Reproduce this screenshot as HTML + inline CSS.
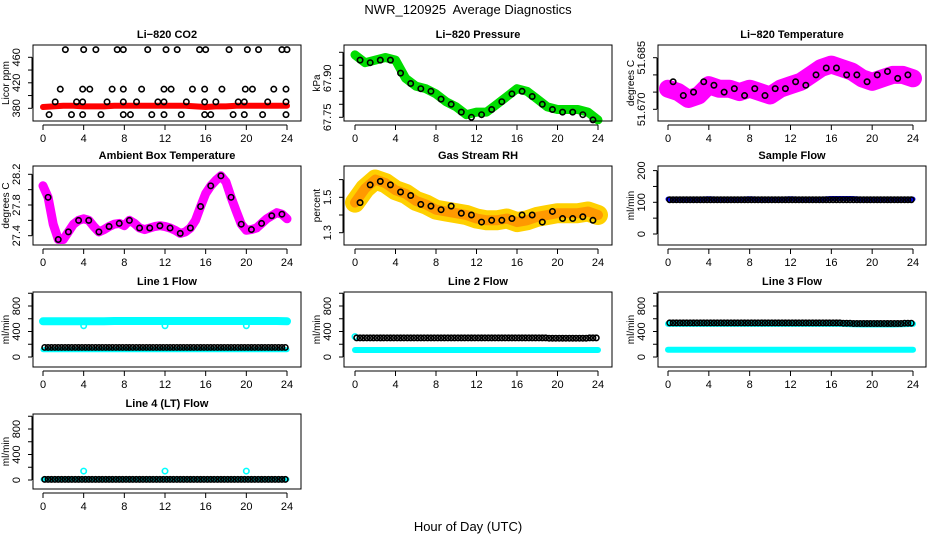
<!DOCTYPE html>
<html><head><meta charset="utf-8"><style>
html,body{margin:0;padding:0;background:#fff;}
svg{display:block;font-family:"Liberation Sans",sans-serif;}
</style></head><body>
<svg id="chart" width="936" height="540" viewBox="0 0 936 540" xmlns="http://www.w3.org/2000/svg">
<text x="468" y="14" text-anchor="middle" font-size="13">NWR_120925&#160; Average Diagnostics</text>
<text x="468" y="531" text-anchor="middle" font-size="13">Hour of Day (UTC)</text>
</svg>
<script>
const HOURLY=[0,1,2,3,4,5,6,7,8,9,10,11,12,13,14,15,16,17,18,19,20,21,22,23,24];
const HALF=[0.5,1.5,2.5,3.5,4.5,5.5,6.5,7.5,8.5,9.5,10.5,11.5,12.5,13.5,14.5,15.5,16.5,17.5,18.5,19.5,20.5,21.5,22.5,23.5];
const HH=[0,0.5,1,1.5,2,2.5,3,3.5,4,4.5,5,5.5,6,6.5,7,7.5,8,8.5,9,9.5,10,10.5,11,11.5,12,12.5,13,13.5,14,14.5,15,15.5,16,16.5,17,17.5,18,18.5,19,19.5,20,20.5,21,21.5,22,22.5,23,23.5,24];
const X_TICKS=[0,4,8,12,16,20,24];

// CO2
const co2Red=[382,383,384,384,383,383,383,384,384,384,384,384,384,384,384,383,382,383,383,384,384,384,384,384,384];
const co2BlackHours=[2.2,4.0,5.2,7.3,7.9,10.3,12.1,13.2,15.4,16.0,18.3,20.1,21.2,23.5,24.0,
1.7,3.9,4.6,6.8,7.9,9.7,11.9,12.6,14.7,15.9,17.6,19.9,20.6,22.7,23.9,
1.2,3.3,3.9,6.3,7.9,9.2,11.3,11.9,14.1,15.9,17.0,19.2,19.8,22.1,23.9,
0.6,2.8,3.9,5.7,7.9,8.6,10.7,11.9,13.6,15.9,16.5,18.7,19.8,21.6,23.9];
const co2BlackValues=[472,472,472,472,472,472,472,472,472,472,472,472,472,472,472,
410,410,410,410,410,410,410,410,410,410,410,410,410,410,410,
390,390,390,390,390,390,390,390,390,390,390,390,390,390,390,
370,370,370,370,370,370,370,370,370,370,370,370,370,370,370];
// Pressure
const presGreen=[67.99,67.96,67.97,67.98,67.97,67.90,67.87,67.86,67.84,67.81,67.79,67.76,67.77,67.77,67.80,67.83,67.86,67.85,67.82,67.79,67.78,67.78,67.78,67.77,67.74];
const presBlack=[67.97,67.96,67.97,67.97,67.92,67.88,67.86,67.85,67.82,67.80,67.77,67.75,67.76,67.78,67.81,67.84,67.85,67.83,67.80,67.78,67.77,67.77,67.76,67.74];
// Li-820 temperature
const tempMag=[51.676,51.675,51.673,51.674,51.677,51.676,51.676,51.675,51.676,51.675,51.674,51.676,51.677,51.678,51.680,51.682,51.683,51.682,51.681,51.679,51.678,51.679,51.680,51.680,51.679];
const tempBlack=[51.678,51.674,51.675,51.678,51.677,51.675,51.676,51.674,51.676,51.674,51.676,51.676,51.678,51.677,51.680,51.682,51.682,51.680,51.680,51.678,51.680,51.681,51.679,51.680];
// Ambient box temp
const ambMag=[28.05,27.9,27.55,27.35,27.35,27.45,27.55,27.6,27.62,27.6,27.52,27.45,27.48,27.52,27.55,27.56,27.53,27.6,27.56,27.5,27.48,27.5,27.52,27.53,27.52,27.5,27.47,27.43,27.45,27.5,27.6,27.78,27.95,28.05,28.12,28.18,28.1,27.9,27.72,27.55,27.47,27.48,27.5,27.56,27.62,27.66,27.7,27.68,27.62];
const ambBlack=[27.9,27.35,27.45,27.6,27.6,27.45,27.52,27.56,27.6,27.5,27.5,27.53,27.5,27.43,27.5,27.78,28.05,28.18,27.9,27.55,27.48,27.56,27.66,27.68];
// RH
const rhOrange=[1.47,1.55,1.6,1.58,1.54,1.52,1.48,1.46,1.43,1.42,1.41,1.4,1.38,1.37,1.37,1.38,1.36,1.37,1.39,1.4,1.41,1.41,1.41,1.42,1.40];
const rhBlack=[1.47,1.57,1.59,1.57,1.53,1.51,1.46,1.45,1.43,1.45,1.41,1.40,1.36,1.37,1.37,1.38,1.40,1.40,1.36,1.42,1.38,1.38,1.39,1.37];
// Sample flow
const sampleBlue=[110,110,110,110,111,110,110,110,111,110,110,110,111,110,110,110,112,112,112,110,110,110,110,110,110];
const sampleBlack=[108,108,108,108,108,108,108,108,108,108,108,108,108,108,108,108,108,108,108,108,108,108,108,108];
// Line flows
const l1CyanHigh=[560,560,560,560,560,560,560,565,565,565,565,565,565,565,565,565,565,565,565,565,565,565,565,565,560];
const l1CyanLow=[115,115,115,115,115,115,115,115,115,115,115,115,115,115,115,115,115,115,115,115,115,115,115,115,115];
const l1Black=[150,150,150,150,150,150,150,150,150,150,150,150,150,150,150,150,150,150,150,150,150,150,150,150];
const l2CyanLow=[110,110,110,110,110,110,110,110,110,110,110,110,110,110,110,110,110,110,110,110,110,110,110,110,110];
const l2Black=[300,300,300,300,300,300,300,300,300,300,300,300,300,300,300,300,300,300,300,295,295,295,295,300];
const l3CyanHigh=[520,520,520,520,520,520,520,520,520,520,520,520,520,520,520,520,520,520,515,510,510,510,510,515,520];
const l3CyanLow=[115,115,115,115,115,115,115,115,115,115,115,115,115,115,115,115,115,115,115,115,115,115,115,115,115];
const l3Black=[535,535,535,535,535,535,535,535,535,535,535,535,535,535,535,535,535,530,525,525,525,525,525,530];
const l4Cyan=[10,10,10,10,10,10,10,10,10,10,10,10,10,10,10,10,10,10,10,10,10,10,10,10,10];
const l4Black=[10,10,10,10,10,10,10,10,10,10,10,10,10,10,10,10,10,10,10,10,10,10,10,10];
const outlierHours=[4,12,20];
const l1Outliers=[490,490,490];
const l4Outliers=[140,140,140];

const svg=document.getElementById('chart');
const NS='http://www.w3.org/2000/svg';
function mk(tag,attrs,parent){const e=document.createElementNS(NS,tag);for(const k in attrs)e.setAttribute(k,attrs[k]);(parent||svg).appendChild(e);return e;}

const COLS=[{l:33,r:301,x0:43,x24:287},{l:344,r:612,x0:355,x24:598},{l:658,r:926,x0:668,x24:913}];
const ROWS=[{t:45,b:121},{t:166,b:245},{t:292,b:367},{t:414,b:489}];

function panel(name,title,ci,ri,yTitle,ya,va,yb,vb,ticks,labels){
  const c=COLS[ci],r=ROWS[ri];
  const g=mk('g',{});
  
  
  const sx=h=>c.x0+h*(c.x24-c.x0)/24;
  const sy=v=>ya+(v-va)*(yb-ya)/(vb-va);
  const t=mk('text',{x:(c.l+c.r)/2,y:r.t-7,'text-anchor':'middle','font-size':11,'font-weight':'bold'},g);
  t.textContent=title;
  
  
  const plot=mk('g',{},g);
  
  
  const box=mk('rect',{x:c.l,y:r.t,width:c.r-c.l,height:r.b-r.t,fill:'none',stroke:'#000','stroke-width':1},g);
  
  
  const xa=mk('g',{},g);
  
  
  mk('line',{x1:sx(0),x2:sx(24),y1:r.b+4,y2:r.b+4,stroke:'#000'},xa);
  X_TICKS.forEach(h=>{
    mk('line',{x1:sx(h),x2:sx(h),y1:r.b+4,y2:r.b+9,stroke:'#000'},xa);
    const lt=mk('text',{x:sx(h),y:r.b+21,'text-anchor':'middle','font-size':11},xa);
    lt.textContent=h;
  });
  const yaG=mk('g',{},g);
  
  
  mk('line',{x1:c.l-1,x2:c.l-1,y1:sy(ticks[0]),y2:sy(ticks[ticks.length-1]),stroke:'#000'},yaG);
  ticks.forEach(v=>{mk('line',{x1:c.l-5,x2:c.l-1,y1:sy(v),y2:sy(v),stroke:'#000'},yaG);});
  labels.forEach(v=>{
    const lx=c.l-13,ly=sy(v);
    const lt=mk('text',{x:lx,y:ly,'text-anchor':'middle','font-size':11,transform:`rotate(-90 ${lx} ${ly})`},yaG);
    lt.textContent=v;
  });
  const yx=c.l-24,yy=(r.t+r.b)/2;
  const ytt=mk('text',{x:yx,y:yy,'text-anchor':'middle','font-size':10,transform:`rotate(-90 ${yx} ${yy})`},g);
  ytt.textContent=yTitle;
  
  
  return {sx,sy,plot};
}
function band(p,hours,vals,color,w,name){
  const pts=hours.map((h,i)=>p.sx(h).toFixed(1)+','+p.sy(vals[i]).toFixed(1)).join(' ');
  const e=mk('polyline',{points:pts,fill:'none',stroke:color,'stroke-width':w,'stroke-linecap':'round','stroke-linejoin':'round'},p.plot);
  
  
}
function pts(p,hours,vals,color,name,rep){
  hours.forEach((h,i)=>{
    const offs=rep?[-0.33,0,0.33]:[0];
    offs.forEach(o=>{
      const hh=Math.min(24,Math.max(0,h+o));
      const e=mk('circle',{cx:p.sx(hh),cy:p.sy(vals[i]),r:2.7,fill:'none',stroke:color,'stroke-width':1.6},p.plot);
      
      
    });
  });
}

let p=panel('co2','Li\u2212820 CO2',0,0,'Licor ppm',57.3,460,108.3,380,[380,400,420,440,460],[380,420,460]);
band(p,HOURLY,co2Red,'#ff0000',6,'co2-red-band');
pts(p,co2BlackHours,co2BlackValues,'#000','co2-black-point',false);

p=panel('pressure','Li\u2212820 Pressure',1,0,'kPa',78.3,67.90,117.3,67.75,[67.75,67.80,67.85,67.90,67.95,68.00],['67.75','67.90']);
band(p,HOURLY,presGreen,'#00dd00',9,'pressure-green-band');
pts(p,HALF,presBlack,'#000','pressure-black-point',false);

p=panel('li820-temp','Li\u2212820 Temperature',2,0,'degrees C',57.7,51.685,109.3,51.670,[51.670,51.675,51.680,51.685],['51.670','51.685']);
band(p,HOURLY,tempMag,'#ff00ff',18,'temp-magenta-band');
pts(p,HALF,tempBlack,'#000','temp-black-point',false);

p=panel('ambient-temp','Ambient Box Temperature',0,1,'degrees C',174.3,28.2,235.7,27.4,[27.4,27.6,27.8,28.0,28.2],['27.4','27.8','28.2']);
band(p,HH,ambMag,'#ff00ff',9,'ambient-magenta-band');
pts(p,HALF,ambBlack,'#000','ambient-black-point',false);

p=panel('rh','Gas Stream RH',1,1,'percent',197.3,1.5,232.7,1.3,[1.3,1.4,1.5,1.6],['1.3','1.5']);
band(p,HOURLY,rhOrange,'#ffd000',20,'rh-yellow-band');
band(p,HOURLY,rhOrange,'#ff9900',10,'rh-orange-band');
pts(p,HALF,rhBlack,'#000','rh-black-point',false);

p=panel('sample-flow','Sample Flow',2,1,'ml/min',202.3,100,234,0,[0,50,100,150,200],[0,100,200]);
band(p,HOURLY,sampleBlue,'#0000ff',5,'sample-blue-band');
pts(p,HALF,sampleBlack,'#000','sample-black-point',true);

const FT=[0,200,400,600,800,1000],FL=[0,400,800];
p=panel('line1-flow','Line 1 Flow',0,2,'ml/min',306,800,357,0,FT,FL);
band(p,HOURLY,l1CyanHigh,'#00ffff',8,'line1-cyan-high');
band(p,HOURLY,l1CyanLow,'#00ffff',5,'line1-cyan-low');
pts(p,outlierHours,l1Outliers,'#00ffff','line1-cyan-outlier',false);
pts(p,HALF,l1Black,'#000','line1-black-point',true);

p=panel('line2-flow','Line 2 Flow',1,2,'ml/min',306,800,357,0,FT,FL);
band(p,HOURLY,l2CyanLow,'#00ffff',6,'line2-cyan-low');
pts(p,[0],[320],'#00ffff','line2-cyan-outlier',false);
pts(p,HALF,l2Black,'#000','line2-black-point',true);

p=panel('line3-flow','Line 3 Flow',2,2,'ml/min',306,800,357,0,FT,FL);
band(p,HOURLY,l3CyanHigh,'#00ffff',6,'line3-cyan-high');
band(p,HOURLY,l3CyanLow,'#00ffff',6,'line3-cyan-low');
pts(p,HALF,l3Black,'#000','line3-black-point',true);

p=panel('line4-flow','Line 4 (LT) Flow',0,3,'ml/min',429,800,480,0,FT,FL);
band(p,HOURLY,l4Cyan,'#00ffff',5,'line4-cyan-band');
pts(p,outlierHours,l4Outliers,'#00ffff','line4-cyan-outlier',false);
pts(p,HALF,l4Black,'#000','line4-black-point',true);
</script>
</body></html>
